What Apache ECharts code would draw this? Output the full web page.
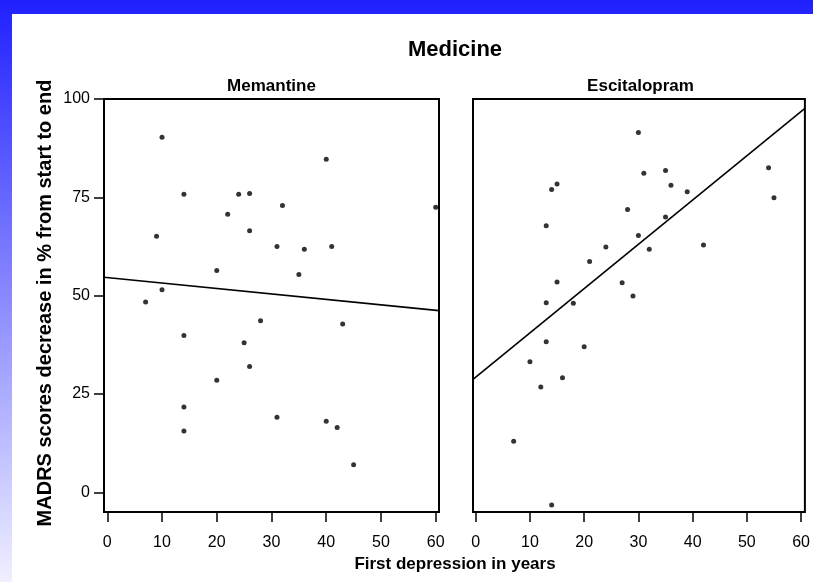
<!DOCTYPE html>
<html>
<head>
<meta charset="utf-8">
<script src="https://cdn.jsdelivr.net/npm/echarts@6/dist/echarts.min.js"></script>
<style>html,body{margin:0;padding:0;background:#fff}#c{width:813px;height:582px}</style>
</head>
<body>
<div id="c"></div>
<script>
// ---- data ----
const chartTitle = 'Medicine';
const panelTitles = ['Memantine', 'Escitalopram'];
const xAxisTitle = 'First depression in years';
const yAxisTitle = 'MADRS scores decrease in % from start to end';
const xTicks = [0, 10, 20, 30, 40, 50, 60];
const yTicks = [0, 25, 50, 75, 100];

const memantineX = [10, 40, 14, 24, 26, 32, 60, 22, 9, 26, 31, 36, 41, 20, 35, 10, 7, 28, 43, 14, 25, 26, 20, 14, 14, 31, 40, 42, 45];
const memantineY = [90.3, 84.7, 75.8, 75.8, 76.0, 72.9, 72.5, 70.7, 65.1, 66.5, 62.5, 61.8, 62.5, 56.4, 55.4, 51.5, 48.4, 43.6, 42.8, 39.9, 38.0, 32.0, 28.5, 21.7, 15.6, 19.1, 18.1, 16.5, 7.0];

const escitalopramX = [30, 54, 31, 35, 36, 15, 14, 39, 55, 28, 35, 13, 30, 42, 24, 32, 21, 15, 27, 29, 13, 18, 13, 20, 10, 16, 12, 7, 14];
const escitalopramY = [91.5, 82.5, 81.1, 81.8, 78.1, 78.4, 77.0, 76.4, 74.9, 71.9, 70.0, 67.8, 65.3, 62.9, 62.4, 61.8, 58.7, 53.5, 53.3, 49.9, 48.2, 48.1, 38.3, 37.0, 33.2, 29.1, 26.8, 13.0, -3.2];

// fit lines (end points read at the frame edges)
const memantineFitX = [-0.6, 60.6];
const memantineFitY = [54.7, 46.2];
const escitalopramFitX = [-0.5, 60.7];
const escitalopramFitY = [28.7, 97.6];

// ---- build ----
const zip = (xs, ys) => xs.map((x, i) => [x, ys[i]]);
const FONT = "'Liberation Sans', Arial, sans-serif";
const chart = echarts.init(document.getElementById('c'), null, {renderer: 'canvas'});

const tickStyle = {show: true, inside: false, length: 10, lineStyle: {color: '#000', width: 1.5}};
const labStyle = {color: '#000', fontFamily: FONT, fontSize: 16};

function xAxis(gi, min, max) {
  return {
    type: 'value', gridIndex: gi, min: min, max: max, position: 'bottom',
    axisLine: {show: false, onZero: false}, splitLine: {show: false},
    axisTick: Object.assign({customValues: xTicks}, tickStyle),
    axisLabel: Object.assign({customValues: xTicks, margin: 23}, labStyle)
  };
}

const option = {
  backgroundColor: '#fff',
  animation: false,
  graphic: [
    {type: 'rect', z: -100, silent: true, shape: {x: 0, y: 0, width: 813, height: 582},
     style: {fill: new echarts.graphic.LinearGradient(0, 0, 0, 1, [
       {offset: 0, color: '#2020ff'}, {offset: 1, color: '#efefff'}])}},
    {type: 'rect', z: -99, silent: true, shape: {x: 12, y: 14, width: 801, height: 568}, style: {fill: '#fff'}},
    {type: 'text', x: 455, y: 50, style: {text: chartTitle, fill: '#000', font: 'bold 22px ' + FONT, align: 'center', verticalAlign: 'middle'}},
    {type: 'text', x: 271.5, y: 86, style: {text: panelTitles[0], fill: '#000', font: 'bold 17px ' + FONT, align: 'center', verticalAlign: 'middle'}},
    {type: 'text', x: 640.5, y: 86, style: {text: panelTitles[1], fill: '#000', font: 'bold 17px ' + FONT, align: 'center', verticalAlign: 'middle'}},
    {type: 'text', x: 455, y: 564, style: {text: xAxisTitle, fill: '#000', font: 'bold 17px ' + FONT, align: 'center', verticalAlign: 'middle'}},
    {type: 'text', x: 45, y: 303, rotation: Math.PI / 2, style: {text: yAxisTitle, fill: '#000', font: 'bold 20px ' + FONT, align: 'center', verticalAlign: 'middle'}}
  ],
  grid: [
    {left: 104, top: 99, width: 335, height: 413, show: true, borderColor: '#000', borderWidth: 2, backgroundColor: 'transparent'},
    {left: 473, top: 99, width: 335, height: 413, show: true, borderColor: '#000', borderWidth: 2, backgroundColor: 'transparent'}
  ],
  xAxis: [xAxis(0, -0.6, 60.6), xAxis(1, -0.5, 60.7)],
  yAxis: [
    {type: 'value', gridIndex: 0, min: -5, max: 100, position: 'left',
     axisLine: {show: false, onZero: false}, splitLine: {show: false},
     axisTick: Object.assign({customValues: yTicks}, tickStyle),
     axisLabel: Object.assign({customValues: yTicks, margin: 14}, labStyle)},
    {type: 'value', gridIndex: 1, min: -5, max: 100, show: false, splitLine: {show: false}}
  ],
  series: [
    {type: 'scatter', xAxisIndex: 0, yAxisIndex: 0, data: zip(memantineX, memantineY), symbol: 'circle', symbolSize: 5, itemStyle: {color: '#000'}},
    {type: 'line', xAxisIndex: 0, yAxisIndex: 0, data: zip(memantineFitX, memantineFitY), symbol: 'none', lineStyle: {color: '#000', width: 1.6}},
    {type: 'scatter', xAxisIndex: 1, yAxisIndex: 1, data: zip(escitalopramX, escitalopramY), symbol: 'circle', symbolSize: 5, itemStyle: {color: '#000'}},
    {type: 'line', xAxisIndex: 1, yAxisIndex: 1, data: zip(escitalopramFitX, escitalopramFitY), symbol: 'none', lineStyle: {color: '#000', width: 1.6}}
  ]
};
chart.setOption(option);
</script>
</body>
</html>
